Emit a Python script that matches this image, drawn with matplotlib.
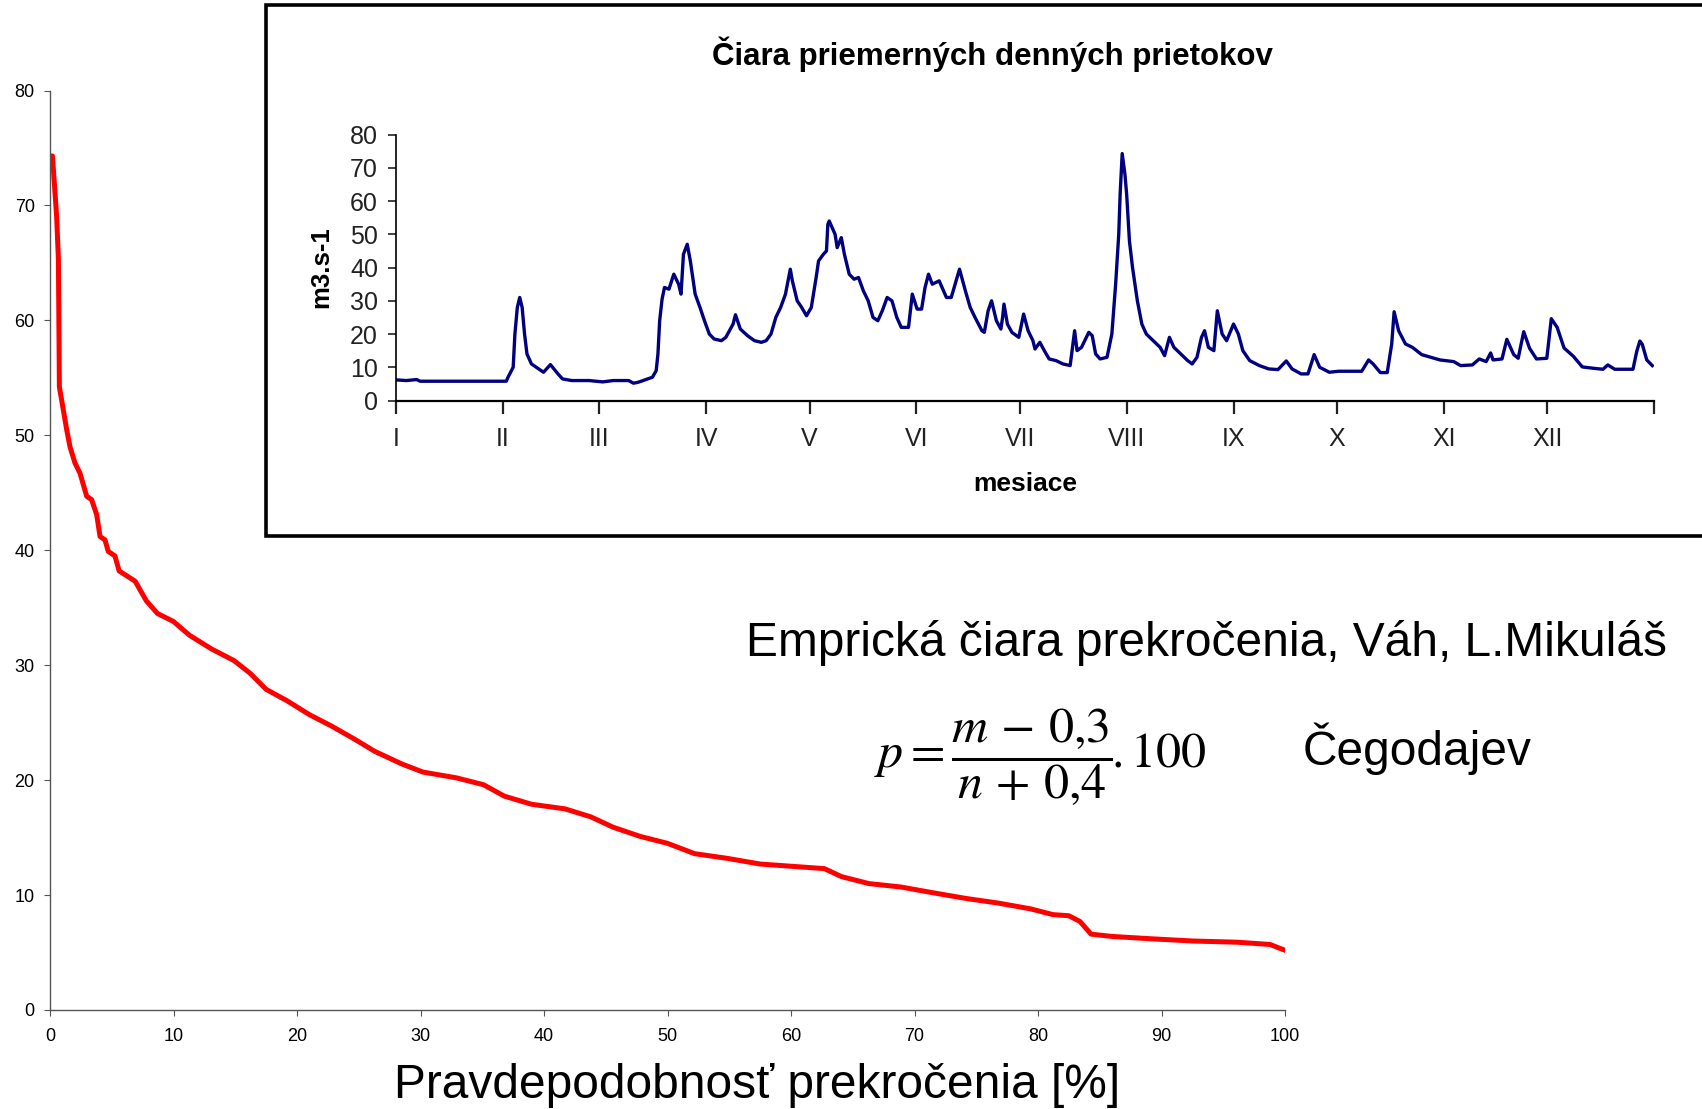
import matplotlib
matplotlib.use("Agg")
import matplotlib.pyplot as plt
from matplotlib.patches import Rectangle

plt.rcParams['font.family'] = ['Liberation Sans', 'DejaVu Sans']
plt.rcParams['mathtext.fontset'] = 'stix'

# empirical exceedance curve (P in %, Q in m3/s)
dur_p = [0.1, 0.2, 0.54, 0.68, 0.76, 1.08, 1.35, 1.62, 2.02, 2.43, 2.97, 3.37, 3.78, 4.05,
         4.45, 4.72, 5.26, 5.6, 6.9, 7.8, 8.7, 10.0, 11.3, 13.1, 14.9, 16.2, 17.5, 19.2,
         21.0, 22.8, 24.6, 26.3, 28.5, 30.2, 32.9, 35.1, 36.8, 39.0, 41.7, 43.8, 45.6,
         47.8, 50.0, 52.2, 54.8, 57.5, 60.1, 62.7, 64.1, 66.3, 68.9, 71.5, 74.2, 76.8,
         79.4, 81.2, 82.5, 83.4, 84.3, 86.0, 89.1, 92.6, 96.1, 98.8, 99.5, 100.0]
dur_q = [74.3, 74.3, 69.0, 65.3, 54.2, 52.2, 50.5, 49.0, 47.6, 46.7, 44.7, 44.4, 43.1, 41.2,
         40.9, 39.9, 39.5, 38.2, 37.3, 35.6, 34.5, 33.8, 32.6, 31.4, 30.4, 29.3, 27.9, 26.9,
         25.7, 24.7, 23.6, 22.5, 21.4, 20.7, 20.2, 19.6, 18.6, 17.9, 17.5, 16.8, 15.9,
         15.1, 14.5, 13.6, 13.2, 12.7, 12.5, 12.3, 11.6, 11.0, 10.7, 10.2, 9.7, 9.3,
         8.8, 8.3, 8.2, 7.7, 6.6, 6.4, 6.2, 6.0, 5.9, 5.7, 5.4, 5.2]

# mean daily flows (day of year, Q)
day = [0, 3, 6, 7, 20, 32, 32.5, 34, 34.5, 35.2, 35.9, 36.6, 37.3, 38, 39.3, 41.4, 42.8,
       44.8, 47, 48.3, 51, 56, 60, 63, 67.5, 68.9, 70.3, 71.7, 74.4, 75.5, 76, 76.5, 77.2,
       77.9, 79.2, 80.6, 82, 82.7, 83.4, 84.5, 85.4, 86.8, 88.2, 89.5, 90.9, 92.3, 94.4,
       95.7, 97.8, 98.5, 99.9, 102, 104, 106, 107.4, 108.8, 110.2, 111.6, 113, 114.4, 115,
       116.4, 117.7, 119.1, 120.5, 121.9, 122.6, 124, 124.9, 125.3, 125.7, 127.4, 128,
       129.2, 130.1, 131.5, 132.9, 134.2, 135.6, 137, 138.4, 139.8, 141.1, 142.5, 143.9,
       145.3, 146.6, 148.7, 149.8, 151.2, 152.5, 153.5, 154.5, 155.6, 157.6, 159.7, 161.1,
       162.5, 163.5, 165.2, 166.6, 168, 170, 170.7, 171.8, 172.8, 174.2, 175.5,
       176.0, 176.4, 177.4, 178.7, 180.7, 182.1, 183.4, 184.8, 185.4, 186.8, 188.1, 189.5,
       191.5, 193.5, 195.6, 196.9, 197.6, 198.9, 201, 202, 203, 204.3, 206.3, 207.7, 208.8,
       209.7, 210.1, 210.7, 211.5, 212, 212.8, 213.7, 215.1, 216.4, 217.7, 219.7, 221.7,
       223, 224.4, 225.7, 227.7, 229.7, 231, 232.4, 233.7, 234.6, 235.7, 237.3, 238.3,
       239.7, 241, 243, 244.4, 245.7, 247.7, 250.5, 253.2, 255.9, 258.3, 260, 262.6, 264.6,
       266.4, 268, 270.8, 273.5, 280.2, 282.2, 283.5, 285.6, 287.6, 288.9, 289.6, 290.9,
       292.9, 294.9, 297.6, 302.9, 306.9, 308.9, 312.3, 314.3, 316.3, 317.6, 318.3, 320.9,
       322.3, 324.3, 325.6, 327.2, 328.9, 330.9, 333.9, 335.2, 336.9, 338.9, 341.6, 344.2,
       348.2, 350.2, 351.6, 353.6, 358.9, 360, 360.9, 361.6, 362.9, 364.5]
flow = [6.2, 6.0, 6.3, 5.8, 5.8, 5.8, 7, 10, 20, 28, 31, 28, 20, 14, 11, 9.5, 8.5,
        10.8, 8, 6.5, 6, 6, 5.6, 6, 6, 5.2, 5.5, 6, 7, 9, 14, 24, 30.5,
        34, 33.5, 38, 35, 32, 44, 47, 42, 32, 28, 24, 20, 18.5, 18,
        19, 23, 25.8, 21.5, 19.5, 18, 17.5, 18, 20, 25, 28, 32, 39.5, 36,
        30, 28, 25.5, 28, 37, 42, 44, 45, 53, 54, 50, 46,
        49, 44, 38, 36.5, 37, 33, 30, 25, 24, 27, 31, 30,
        25, 22, 22, 32, 27.5, 27.5, 34, 38, 35, 36, 31, 31,
        36, 39.5, 33, 28, 25, 21, 20.5, 27, 30, 24, 21.5,
        25, 29, 23, 20.5, 19, 26, 21, 18, 15.5, 17.5, 15, 12.5,
        12, 11, 10.5, 21, 15, 16, 20.5, 19.5, 14, 12.5, 13, 20, 35,
        50, 62, 74.3, 68, 62, 48, 40, 30, 23, 20, 18, 16,
        13.5, 19, 16, 14, 12, 11, 13, 19, 21, 16, 15, 27,
        20, 18, 23, 20, 15, 12, 10.5, 9.5, 9.3, 11.9, 9.5, 8, 8,
        13.8, 10, 8.5, 8.8, 8.8, 12.2, 11, 8.4, 8.4, 17, 26.7, 21,
        17, 16, 13.8, 12.2, 11.7, 10.5, 10.7, 12.5, 11.7, 14.3, 12.2, 12.5,
        18.4, 13.8, 12.7, 20.7, 15.7, 12.5, 12.7, 24.6, 22, 15.8, 13.3, 10.1,
        9.6, 9.4, 10.7, 9.4, 9.4, 14.8, 17.9, 16.9, 12.2, 10.5]

months = ['I', 'II', 'III', 'IV', 'V', 'VI', 'VII', 'VIII', 'IX', 'X', 'XI', 'XII']
month_start = [0, 31, 59, 90, 120, 151, 181, 212, 243, 273, 304, 334, 365]

W, H = 1702, 1109
fig = plt.figure(figsize=(W / 100, H / 100), dpi=100)

# main exceedance plot
ax = fig.add_axes([50 / W, 1 - 1010 / H, (1285 - 50) / W, (1010 - 90.5) / H])
ax.plot(dur_p, dur_q, color='#ff0000', lw=3.6, solid_joinstyle='round')
ax.set_xlim(0, 100)
ax.set_ylim(0, 80)
ax.set_xticks(range(0, 101, 10))
ax.set_yticks(range(0, 81, 10))
for s in ['top', 'right']:
    ax.spines[s].set_visible(False)
for s in ['left', 'bottom']:
    ax.spines[s].set_color('#555555')
    ax.spines[s].set_linewidth(1.0)
ax.tick_params(length=4, width=0.8, color='#555555', labelsize=13)
ax.tick_params(axis='x', pad=9)
ax.tick_params(axis='y', pad=7)
fig.text(757 / W, 1 - 1085 / H, 'Pravdepodobnosť prekročenia [%]', fontsize=34.5,
         ha='center', va='center')

# inset frame
frame = Rectangle((266 / W, 1 - 536 / H), 1.2, (536 - 5) / H, transform=fig.transFigure,
                  facecolor='white', edgecolor='black', lw=2.6, zorder=5, clip_on=False)
fig.patches.append(frame)
fig.text(992 / W, 1 - 54 / H, 'Čiara priemerných denných prietokov', fontsize=22.5,
         fontweight='bold', ha='center', va='center', zorder=6)

ins = fig.add_axes([396 / W, 1 - 400.5 / H, (1654 - 396) / W, (400.5 - 134.6) / H], zorder=7)
ins.patch.set_alpha(0)
ins.plot(day, flow, color='#000080', lw=2.4)
ins.set_xlim(0, 365)
ins.set_ylim(0, 80)
ins.set_yticks(range(0, 81, 10))
ins.set_xticks(month_start)
ins.set_xticklabels(months + [''])
for s in ['top', 'right']:
    ins.spines[s].set_visible(False)
ins.spines['left'].set_linewidth(1.2)
ins.spines['bottom'].set_linewidth(1.6)
ins.tick_params(axis='y', length=6, width=1.2, labelsize=18, pad=7, colors='#222222')
ins.tick_params(axis='x', length=9, width=1.6, labelsize=18, pad=10, colors='#222222')
ins.set_xlabel('mesiace', fontsize=19, fontweight='bold', labelpad=15)
ins.set_ylabel('m3.s-1', fontsize=18.5, fontweight='bold', labelpad=12)

# annotation texts
fig.text(1207 / W, 1 - 643 / H, 'Emprická čiara prekročenia, Váh, L.Mikuláš',
         fontsize=34.5, ha='center', va='center')
fig.text(1040 / W, 1 - 757 / H, r'$p=\dfrac{m\,-\,0{,}3}{n\,+\,0{,}4}\!.100$',
         fontsize=36, ha='center', va='center')
fig.text(1417 / W, 1 - 749 / H, 'Čegodajev', fontsize=34.5, ha='center', va='center')

fig.savefig('out.png', dpi=100)
